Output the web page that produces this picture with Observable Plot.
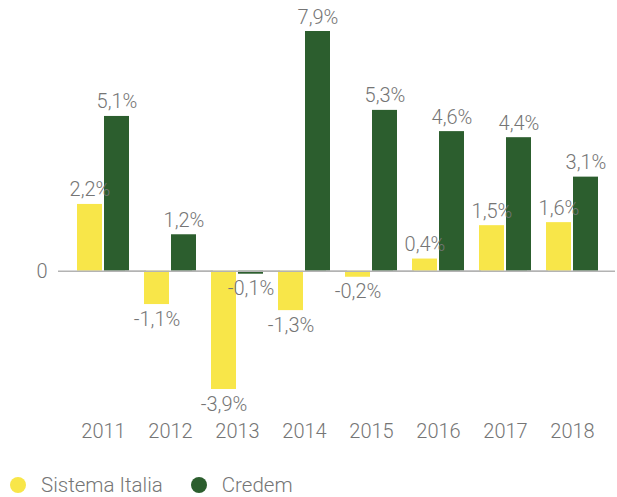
<!DOCTYPE html>
<html><head><meta charset="utf-8">
<script src="https://cdn.jsdelivr.net/npm/d3@7"></script>
<script src="https://cdn.jsdelivr.net/npm/@observablehq/plot@0.6"></script>
<style>
body{margin:0;background:#fff;font-family:Roboto,sans-serif;overflow:hidden;}
#legend{display:flex;align-items:center;margin-top:20px;height:20px;line-height:20px;font-family:Roboto,sans-serif;font-weight:300;font-size:20.5px;color:#757575;}
#legend .item{display:flex;align-items:center;margin-right:28px;height:20px;}
#legend .dot{width:16px;height:16px;border-radius:50%;margin-right:15px;}
#legend .item:first-child{margin-left:10px;}
</style></head><body><div id="chart"></div>
<script>
const years = ["2011","2012","2013","2014","2015","2016","2017","2018"];
const seriesNames = ["Sistema Italia","Credem"];
const sistemaItalia = [2.2,-1.1,-3.9,-1.3,-0.2,0.4,1.5,1.6];
const credem = [5.1,1.2,-0.1,7.9,5.3,4.6,4.4,3.1];
const seriesColors = ["#f8e649","#2c5e2e"];
const yTicks = [0];

const data = years.flatMap((y,i)=>[
  {year:y, series:seriesNames[0], value:sistemaItalia[i]},
  {year:y, series:seriesNames[1], value:credem[i]}
]);
const fmt = v => v.toFixed(1).replace(".", ",") + "%";
const textColor = "#757575";

const chart = Plot.plot({
  width:617, height:455,
  marginTop:31, marginBottom:66, marginLeft:76, marginRight:17,
  style:{fontFamily:"Roboto", fontSize:"20px", fontWeight:300, color:textColor, background:"#fff", overflow:"visible"},
  fx:{domain:years, paddingInner:0.22, paddingOuter:0, label:null, tickSize:0, tickPadding:34},
  x:{domain:seriesNames, paddingInner:0.09, paddingOuter:0, axis:null},
  y:{domain:[-3.9,7.9], ticks:yTicks, tickSize:0, tickPadding:30, label:null, tickFormat:d=>String(d)},
  color:{domain:seriesNames, range:seriesColors},
  marks:[
    Plot.barY(data,{fx:"year", x:"series", y:"value", fill:"series"}),
    Plot.ruleY([0],{stroke:"#b3b3b3", strokeWidth:1.5, insetLeft:-19, insetRight:-17}),
    Plot.text(data.filter(d=>d.value>=0),{fx:"year", x:"series", y:"value", text:d=>fmt(d.value), lineAnchor:"bottom", dy:-8, fill:textColor, fontSize:20}),
    Plot.text(data.filter(d=>d.value<0),{fx:"year", x:"series", y:"value", text:d=>fmt(d.value), lineAnchor:"top", dy:7, fill:textColor, fontSize:20})
  ]
});
chart.style.display = "block";
document.getElementById("chart").appendChild(chart);

const legend = document.createElement("div");
legend.id = "legend";
seriesNames.forEach((n,i)=>{
  const it = document.createElement("div"); it.className="item";
  const dot = document.createElement("span"); dot.className="dot"; dot.style.background = seriesColors[i];
  const lab = document.createElement("span"); lab.textContent = n;
  it.appendChild(dot); it.appendChild(lab); legend.appendChild(it);
});
document.body.appendChild(legend);
</script></body></html>
